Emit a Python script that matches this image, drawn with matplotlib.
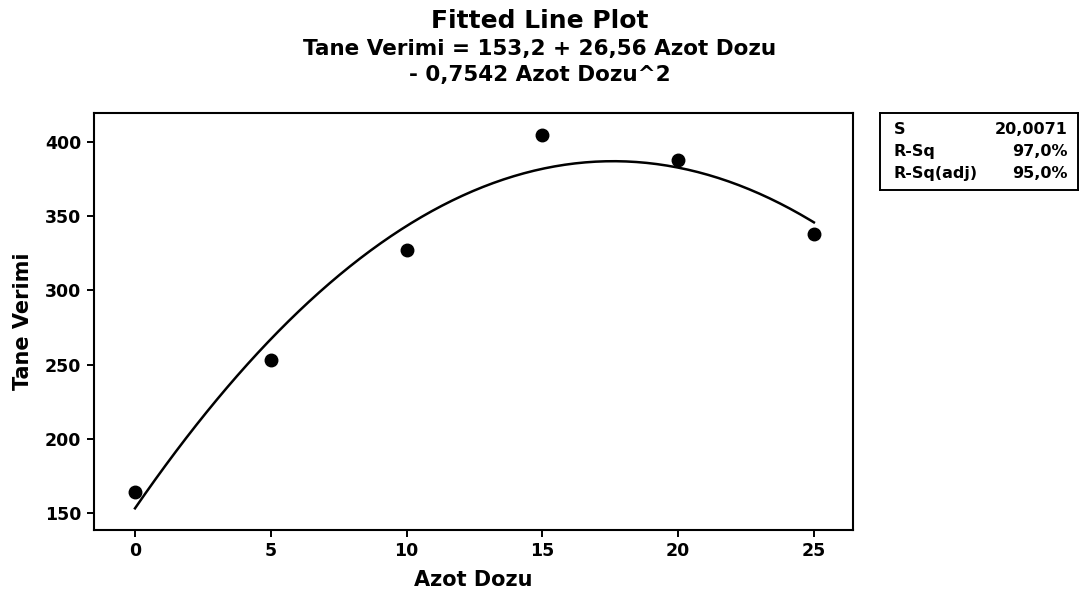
import matplotlib.pyplot as plt
import numpy as np

plt.rcParams["font.family"] = ["DejaVu Sans"]
plt.rcParams["font.weight"] = "bold"

# observed data
azot_dozu = [0, 5, 10, 15, 20, 25]
tane_verimi = [164, 253, 327, 405, 388, 338]

# fitted quadratic coefficients (from the title)
b0, b1, b2 = 153.2, 26.56, -0.7542

stat_names = ["S", "R-Sq", "R-Sq(adj)"]
stat_values = ["20,0071", "97,0%", "95,0%"]

fig = plt.figure(figsize=(10.8, 5.95), dpi=100)
ax = fig.add_axes([94 / 1080, 1 - 530 / 595, 759 / 1080, 417 / 595])

xs = np.linspace(min(azot_dozu), max(azot_dozu), 200)
ax.plot(xs, b0 + b1 * xs + b2 * xs**2, color="black", lw=1.8)
ax.plot(azot_dozu, tane_verimi, "o", color="black", ms=9)

ax.set_xlim(-1.51, 26.44)
ax.set_ylim(138.6, 419.5)
ax.set_xticks([0, 5, 10, 15, 20, 25])
ax.set_yticks([150, 200, 250, 300, 350, 400])
ax.tick_params(labelsize=12.5, width=1.4, length=5, pad=4)
for sp in ax.spines.values():
    sp.set_linewidth(1.5)

ax.set_xlabel("Azot Dozu", fontsize=15, fontweight="bold", labelpad=7)
ax.set_ylabel("Tane Verimi", fontsize=15, fontweight="bold", labelpad=9)

fig.text(0.5, 1 - 21 / 595, "Fitted Line Plot", ha="center", va="center",
         fontsize=18, fontweight="bold")
fig.text(0.5, 1 - 62 / 595, "Tane Verimi = 153,2 + 26,56 Azot Dozu\n- 0,7542 Azot Dozu^2",
         ha="center", va="center", fontsize=15.5, fontweight="bold",
         linespacing=1.35)

# stats box
bx = fig.add_axes([880 / 1080, 1 - 190 / 595, 198 / 1080, 77 / 595])
bx.set_xticks([])
bx.set_yticks([])
for sp in bx.spines.values():
    sp.set_linewidth(1.4)
for i, (n, v) in enumerate(zip(stat_names, stat_values)):
    y = 0.79 - i * 0.285
    bx.text(0.07, y, n, fontsize=11.5, fontweight="bold", va="center")
    bx.text(0.95, y, v, fontsize=11.5, fontweight="bold", va="center", ha="right")

fig.savefig("out.png", dpi=100)
